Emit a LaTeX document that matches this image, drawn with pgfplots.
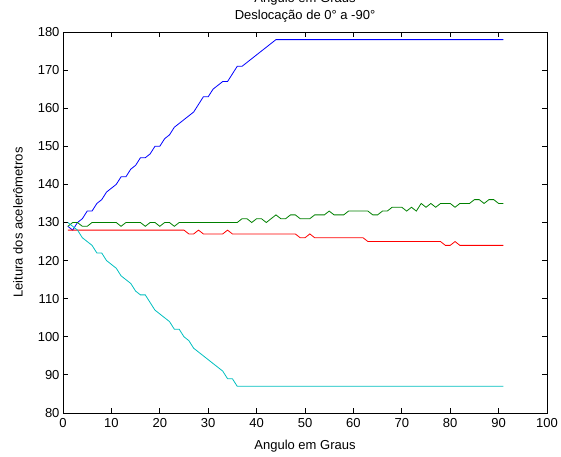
\documentclass[border=0pt]{standalone}
\usepackage{pgfplots}
\usepackage{pgfplotstable}
\pgfplotsset{compat=1.18}
\usepackage{fontspec}
\setmainfont{Liberation Sans}
\pgfplotstableread{
x blue green red cyan
1 129 129 128 130
2 128 130 128 129
3 130 130 128 128
4 131 129 128 126
5 133 129 128 125
6 133 130 128 124
7 135 130 128 122
8 136 130 128 122
9 138 130 128 120
10 139 130 128 119
11 140 130 128 118
12 142 129 128 116
13 142 130 128 115
14 144 130 128 114
15 145 130 128 112
16 147 130 128 111
17 147 129 128 111
18 148 130 128 109
19 150 130 128 107
20 150 129 128 106
21 152 130 128 105
22 153 130 128 104
23 155 129 128 102
24 156 130 128 102
25 157 130 128 100
26 158 130 127 99
27 159 130 127 97
28 161 130 128 96
29 163 130 127 95
30 163 130 127 94
31 165 130 127 93
32 166 130 127 92
33 167 130 127 91
34 167 130 128 89
35 169 130 127 89
36 171 130 127 87
37 171 131 127 87
38 172 131 127 87
39 173 130 127 87
40 174 131 127 87
41 175 131 127 87
42 176 130 127 87
43 177 131 127 87
44 178 132 127 87
45 178 131 127 87
46 178 131 127 87
47 178 132 127 87
48 178 132 127 87
49 178 131 126 87
50 178 131 126 87
51 178 131 127 87
52 178 132 126 87
53 178 132 126 87
54 178 132 126 87
55 178 133 126 87
56 178 132 126 87
57 178 132 126 87
58 178 132 126 87
59 178 133 126 87
60 178 133 126 87
61 178 133 126 87
62 178 133 126 87
63 178 133 125 87
64 178 132 125 87
65 178 132 125 87
66 178 133 125 87
67 178 133 125 87
68 178 134 125 87
69 178 134 125 87
70 178 134 125 87
71 178 133 125 87
72 178 134 125 87
73 178 133 125 87
74 178 135 125 87
75 178 134 125 87
76 178 135 125 87
77 178 134 125 87
78 178 135 125 87
79 178 135 124 87
80 178 135 124 87
81 178 134 125 87
82 178 135 124 87
83 178 135 124 87
84 178 135 124 87
85 178 136 124 87
86 178 136 124 87
87 178 135 124 87
88 178 136 124 87
89 178 136 124 87
90 178 135 124 87
91 178 135 124 87
}\datatable
\definecolor{mblue}{rgb}{0,0,1}
\definecolor{mgreen}{rgb}{0,0.5,0}
\definecolor{mred}{rgb}{1,0,0}
\definecolor{mcyan}{rgb}{0,0.75,0.75}
\begin{document}
\begin{tikzpicture}[font=\fontsize{13}{15}\selectfont]
\begin{axis}[
  at={(0pt,0pt)}, anchor=south west,
  scale only axis, width=484pt, height=381pt,
  xmin=0, xmax=100, ymin=80, ymax=180,
  xtick={0,10,...,100}, ytick={80,90,...,180},
  tick align=inside, major tick length=5pt,
  xtick pos=both, ytick pos=both,
  xticklabel pos=lower, yticklabel pos=left,
  axis line style={line width=0.9pt},
  every tick/.style={line width=0.9pt, black},
  tick label style={font=\fontsize{13}{15}\selectfont},
  x tick label style={yshift=-2pt},
  /pgf/number format/assume math mode=true,
  /pgf/number format/1000 sep={},
  clip=false,
]
\addplot[mblue, line width=0.8pt] table[x=x, y=blue] {\datatable};
\addplot[mgreen, line width=0.8pt] table[x=x, y=green] {\datatable};
\addplot[mred, line width=0.8pt] table[x=x, y=red] {\datatable};
\addplot[mcyan, line width=0.8pt] table[x=x, y=cyan] {\datatable};
\end{axis}
\node[anchor=base] at (242pt,410pt) {Angulo em Graus};
\node[anchor=base] at (242pt,393pt) {Deslocação de 0° a -90°};
\node[anchor=center] at (242pt,-33pt) {Angulo em Graus};
\node[anchor=center, rotate=90] at (-45pt,190.5pt) {Leitura dos acelerômetros};
\pgfresetboundingbox
\path[use as bounding box] (-63pt,-43pt) rectangle (498pt,413pt);
\end{tikzpicture}
\end{document}
